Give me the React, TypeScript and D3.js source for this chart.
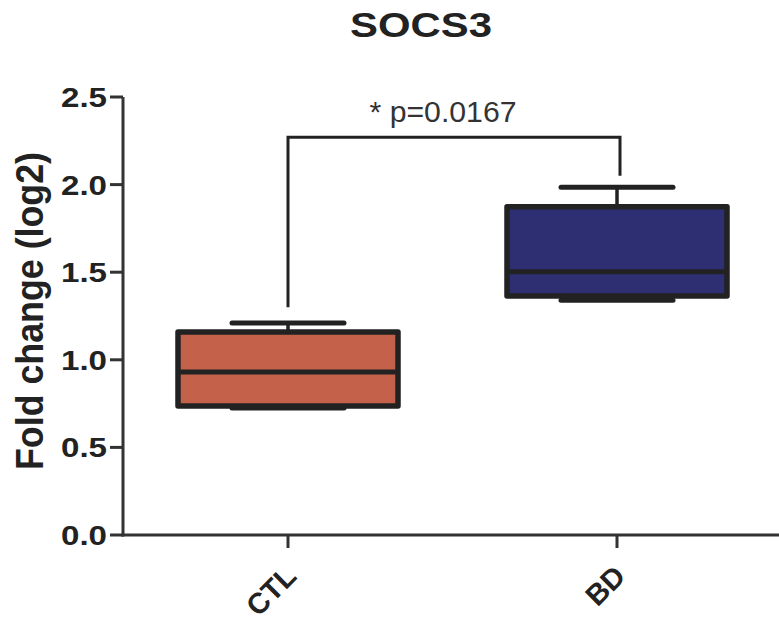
import React from "react";
import * as d3 from "d3";

const categories = ["CTL", "BD"];
const mins = [0.725, 1.34];
const q1s = [0.736, 1.364];
const medians = [0.93, 1.503];
const q3s = [1.159, 1.874];
const maxs = [1.21, 1.985];
const fills = ["#C4614B", "#2E2F73"];
const yTicks = [0, 0.5, 1, 1.5, 2, 2.5];
const bracketTop = 2.27;
const bracketEnds = [1.3, 2.05];
const pLabel = "* p=0.0167";
const title = "SOCS3";
const yLabel = "Fold change (log2)";

const W = 779;
const H = 625;

export default function App() {
  const x = d3.scalePoint<string>().domain(categories).range([288, 617]);
  const y = d3.scaleLinear().domain([0, 2.5]).range([535, 97]);
  const axisX = 123;
  const boxHalf = 110;
  const capHalf = 56;
  const ink = "#222";
  const font = "'Liberation Sans', Arial, Helvetica, sans-serif";

  return (
    <svg
      width={W}
      height={H}
      style={{ position: "absolute", left: 0, top: 0, background: "#fff" }}
      fontFamily={font}
    >
      <rect x={0} y={0} width={W} height={H} fill="#fff" />
      {/* title */}
      <text
        x={421}
        y={37}
        textAnchor="middle"
        fontWeight="bold"
        fontSize={35}
        fill={ink}
        textLength={142}
        lengthAdjust="spacingAndGlyphs"
      >
        {title}
      </text>

      {/* y axis */}
      <line x1={axisX} x2={axisX} y1={y(2.5)} y2={y(0) + 1.5} stroke="#333" strokeWidth={3} />
      {yTicks.map((t) => (
        <g key={t}>
          <line x1={110} x2={axisX} y1={y(t)} y2={y(t)} stroke="#333" strokeWidth={3} />
          <text
            x={107}
            y={y(t) + 10}
            textAnchor="end"
            fontWeight="bold"
            fontSize={28}
            fill={ink}
            textLength={46}
            lengthAdjust="spacingAndGlyphs"
          >
            {d3.format(".1f")(t)}
          </text>
        </g>
      ))}
      <text
        transform={`translate(43, 311) rotate(-90) scale(1, 1.1)`}
        textAnchor="middle"
        fontWeight="bold"
        fontSize={36}
        fill={ink}
        textLength={318}
        lengthAdjust="spacingAndGlyphs"
      >
        {yLabel}
      </text>

      {/* x axis */}
      <line x1={axisX - 1.5} x2={W} y1={y(0)} y2={y(0)} stroke="#333" strokeWidth={3} />
      {categories.map((c) => (
        <g key={c}>
          <line x1={x(c)} x2={x(c)} y1={y(0)} y2={y(0) + 13} stroke="#333" strokeWidth={3} />
          <text
            transform={`translate(${(x(c) as number) + 10}, 578) rotate(-45)`}
            textAnchor="end"
            fontWeight="bold"
            fontSize={29}
            fill={ink}
          >
            {c}
          </text>
        </g>
      ))}

      {/* boxes */}
      {categories.map((c, i) => {
        const cx = x(c) as number;
        return (
          <g key={c}>
            <line x1={cx} x2={cx} y1={y(q3s[i])} y2={y(maxs[i])} stroke={ink} strokeWidth={3.5} />
            <line x1={cx} x2={cx} y1={y(q1s[i])} y2={y(mins[i])} stroke={ink} strokeWidth={3.5} />
            <line
              x1={cx - capHalf}
              x2={cx + capHalf}
              y1={y(maxs[i])}
              y2={y(maxs[i])}
              stroke={ink}
              strokeWidth={5}
              strokeLinecap="round"
            />
            <line
              x1={cx - capHalf}
              x2={cx + capHalf}
              y1={y(mins[i])}
              y2={y(mins[i])}
              stroke={ink}
              strokeWidth={5}
              strokeLinecap="round"
            />
            <rect
              x={cx - boxHalf}
              y={y(q3s[i])}
              width={boxHalf * 2}
              height={y(q1s[i]) - y(q3s[i])}
              fill={fills[i]}
              stroke={ink}
              strokeWidth={5.5}
              strokeLinejoin="round"
            />
            <line
              x1={cx - boxHalf}
              x2={cx + boxHalf}
              y1={y(medians[i])}
              y2={y(medians[i])}
              stroke={ink}
              strokeWidth={5}
            />
          </g>
        );
      })}

      {/* significance bracket */}
      <path
        d={`M${x(categories[0])},${y(bracketEnds[0])} V${y(bracketTop)} H${(x(categories[1]) as number) + 3} V${y(bracketEnds[1])}`}
        fill="none"
        stroke={ink}
        strokeWidth={3}
      />
      <text
        x={443}
        y={122}
        textAnchor="middle"
        fontSize={29}
        fill="#333"
        textLength={147}
        lengthAdjust="spacingAndGlyphs"
      >
        {pLabel}
      </text>
    </svg>
  );
}
